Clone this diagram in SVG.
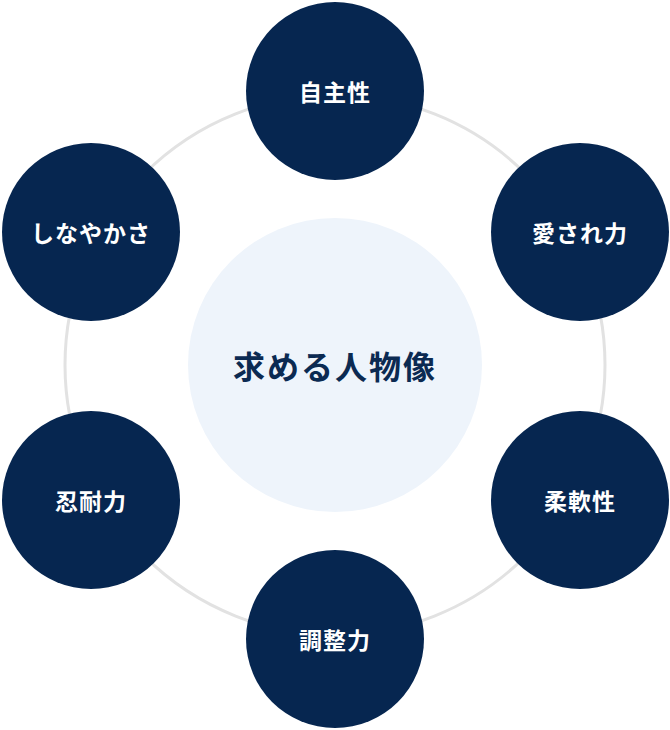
<svg xmlns="http://www.w3.org/2000/svg" width="670" height="730" viewBox="0 0 670 730">
<style>
.n{fill:#062650}
.t{fill:#fff;font-family:"Noto Sans CJK JP",sans-serif;font-weight:700;font-size:23px;text-anchor:middle;dominant-baseline:central;letter-spacing:1px}
</style>
<rect width="670" height="730" fill="#fff"/>
<g id="connectors"><circle cx="335" cy="365" r="270" fill="none" stroke="#e2e2e2" stroke-width="3"/></g>
<g id="center"><circle cx="335" cy="365" r="147" fill="#eef4fb"/><text x="335" y="365" font-family="Noto Sans CJK JP,sans-serif" font-weight="700" font-size="32" fill="#0b2a52" text-anchor="middle" dominant-baseline="central" letter-spacing="2">求める人物像</text></g>
<g id="n1"><circle class="n" cx="335" cy="91" r="89"/><text class="t" x="335" y="91">自主性</text></g>
<g id="n2"><circle class="n" cx="580" cy="232" r="89"/><text class="t" x="580" y="232">愛され力</text></g>
<g id="n3"><circle class="n" cx="580" cy="500" r="89"/><text class="t" x="580" y="500">柔軟性</text></g>
<g id="n4"><circle class="n" cx="335" cy="639" r="89"/><text class="t" x="335" y="639">調整力</text></g>
<g id="n5"><circle class="n" cx="91" cy="500" r="89"/><text class="t" x="91" y="500">忍耐力</text></g>
<g id="n6"><circle class="n" cx="91" cy="232" r="89"/><text class="t" x="91" y="232">しなやかさ</text></g>
</svg>
